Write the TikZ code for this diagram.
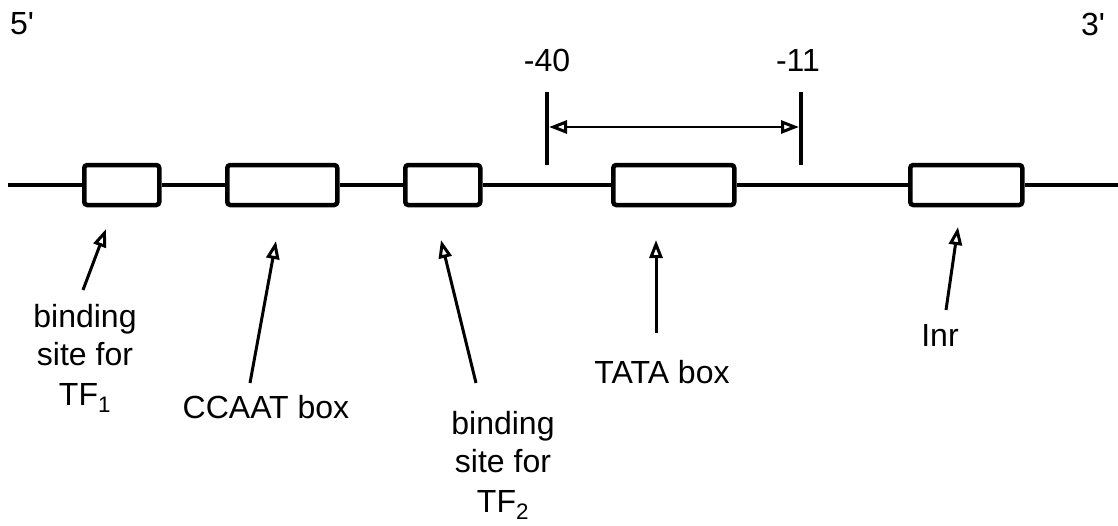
\documentclass[tikz,border=0pt]{standalone}
\usepackage{fontspec}
\setmainfont{Liberation Sans}
\usetikzlibrary{arrows.meta}
\begin{document}
\begin{tikzpicture}[x=1pt,y=-1pt,
  every node/.style={font=\fontsize{32}{38}\selectfont},
  boxnode/.style={draw, line width=4.5pt, rounded corners=3pt, fill=white,
    minimum height=40pt, inner sep=0pt, anchor=west},
  dnaline/.style={line width=3.5pt},
  tip/.style={Triangle[open, length=18pt, width=13pt, line width=3pt]},
  pointer/.style={line width=3pt, -{Triangle[open, length=18pt, width=13pt, line width=3pt]}},
  span/.style={line width=2.8pt, {Triangle[open, length=18pt, width=13pt, line width=3pt]}-{Triangle[open, length=18pt, width=13pt, line width=3pt]}},
  bar/.style={line width=3.2pt},
  lbl/.style={align=center, inner sep=0pt}]
\useasboundingbox (0,0) rectangle (1118,525);
% ends of the DNA line
\coordinate (s) at (8,185);
\coordinate (e) at (1118,185);
% boxes
\node[boxnode, minimum width=75pt]  (b1) at (82,185) {};
\node[boxnode, minimum width=110pt] (b2) at (225,185) {};
\node[boxnode, minimum width=75pt]  (b3) at (403,185) {};
\node[boxnode, minimum width=121pt] (b4) at (611,185) {};
\node[boxnode, minimum width=112pt] (b5) at (908,185) {};
\draw[dnaline] (s) -- (b1.west) (b1.east) -- (b2.west) (b2.east) -- (b3.west)
  (b3.east) -- (b4.west) (b4.east) -- (b5.west) (b5.east) -- (e);
% end labels
\node[lbl] (p5) at (22,24) {5\textquotesingle};
\node[lbl] (p3) at (1093,24) {3\textquotesingle};
\node[lbl] (m40) at (547,60) {-40};
\node[lbl] (m11) at (798,60) {-11};
% bars and span arrow
\coordinate (l1) at (547,92);
\coordinate (l2) at (547,165);
\coordinate (r1) at (801,92);
\coordinate (r2) at (801,165);
\draw[bar] (l1) -- (l2);
\draw[bar] (r1) -- (r2);
\coordinate (sl) at (549,127);
\coordinate (sr) at (799,127);
\draw[span] (sl) -- (sr);
% labels
\node[lbl] (t1) at (85,358) {binding\\site for\\[2pt]TF\textsubscript{1}};
\node[lbl] (t2) at (266,407) {CCAAT box};
\node[lbl] (t3) at (503,465) {binding\\site for\\[2pt]TF\textsubscript{2}};
\node[lbl] (t4) at (662,372) {TATA box};
\node[lbl] (t5) at (940,335) {Inr};
% pointer arrows
\coordinate (a1t) at (83,290);   \coordinate (a1h) at (106,229);
\coordinate (a2t) at (250,383);  \coordinate (a2h) at (276,241);
\coordinate (a3t) at (476,383);  \coordinate (a3h) at (441,240);
\coordinate (a4t) at (656,333);  \coordinate (a4h) at (656,240);
\coordinate (a5t) at (946,310);  \coordinate (a5h) at (958,227);
\draw[pointer] (a1t) -- (a1h);
\draw[pointer] (a2t) -- (a2h);
\draw[pointer] (a3t) -- (a3h);
\draw[pointer] (a4t) -- (a4h);
\draw[pointer] (a5t) -- (a5h);
\end{tikzpicture}
\end{document}
